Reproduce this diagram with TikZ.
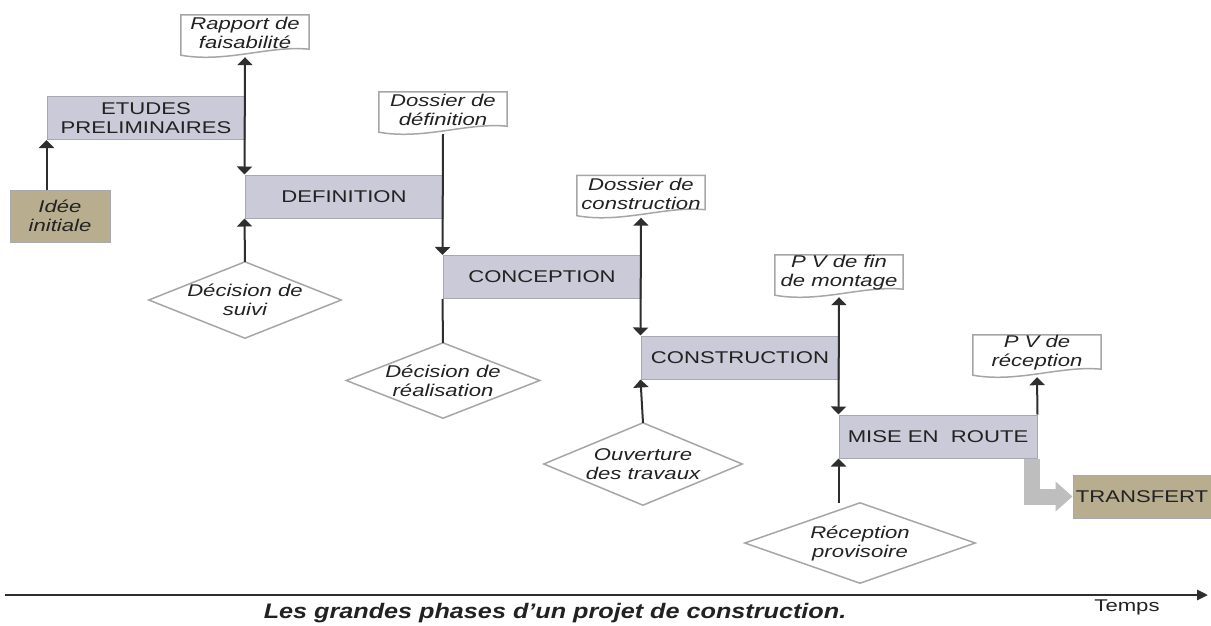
\documentclass[tikz,border=0pt]{standalone}
\usepackage{fontspec}
\setmainfont{Liberation Sans}[FakeStretch=1.3]
\newfontfamily\capfont{Liberation Sans}[FakeStretch=1.2]
\usetikzlibrary{arrows.meta,calc,backgrounds}
\definecolor{phasefill}{HTML}{CACAD8}
\definecolor{tanfill}{HTML}{B8AD8E}
\definecolor{boxborder}{HTML}{A8A8B0}
\definecolor{linecol}{HTML}{2E2E2E}
\definecolor{textcol}{HTML}{222222}
\definecolor{shapeline}{HTML}{A6A6A6}
\definecolor{grayarr}{HTML}{BEBEBE}
\tikzset{
  lbl/.style={font=\fontsize{17}{19}\selectfont, text=textcol, align=center},
  phase/.style={lbl, draw=boxborder, line width=1pt, fill=phasefill, minimum width=198pt, minimum height=43pt, inner sep=0pt},
  tanbox/.style={lbl, draw=boxborder, line width=1pt, fill=tanfill, inner sep=0pt},
  docnode/.style={minimum width=128pt, minimum height=42pt, inner sep=0pt},
  doctext/.style={lbl, font=\fontsize{17}{19}\selectfont\itshape, inner sep=0pt, yshift=3pt},
  decnode/.style={lbl, font=\fontsize{17}{19}\selectfont\itshape, inner sep=0pt},
  docline/.style={draw=shapeline, line width=1.5pt, fill=white},
  dialine/.style={draw=shapeline, line width=1.5pt, fill=white},
  link/.style={draw=linecol, line width=2pt},
  tipin/.style={-{Triangle[width=15pt,length=8pt]}},
  tipboth/.style={{Triangle[width=15pt,length=8pt]}-{Triangle[width=15pt,length=8pt]}},
  grayarrow/.style={draw=grayarr, line width=16pt, line join=miter, -{Triangle[width=29pt,length=17pt]}},
  axisline/.style={draw=linecol, line width=2.6pt, -{Triangle[width=10pt,length=11pt]}}
}
\newcommand\docpath[1]{\draw[docline] ($(#1.south west)+(0,-2)$) -- (#1.north west) -- (#1.north east) -- ($(#1.south east)+(0,-8)$) .. controls ($(#1.south east)+(-40,-12)$) and ($(#1.south west)+(45,6)$) .. ($(#1.south west)+(0,-2)$) -- cycle;}
\newcommand\diapath[1]{\draw[dialine] (#1.north) -- (#1.east) -- (#1.south) -- (#1.west) -- cycle;}
\begin{document}
\begin{tikzpicture}[x=1pt,y=-1pt]
\useasboundingbox (0,0) rectangle (1211,625);

% phases
\node[phase] (etudes) at (146,118) {ETUDES\\PRELIMINAIRES};
\node[phase] (definition) at (344,196.5) {DEFINITION};
\node[phase] (conception) at (542,277) {CONCEPTION};
\node[phase] (construction) at (740,357.5) {CONSTRUCTION};
\node[phase] (mise) at (938,436.5) {MISE EN\ \ ROUTE};

\node[tanbox, minimum width=100pt, minimum height=52pt, font=\fontsize{17}{19}\selectfont\itshape] (idee) at (60,216) {Idée\\initiale};
\node[tanbox, minimum width=138pt, minimum height=43pt] (transfert) at (1142,496.5) {TRANSFERT};

% documents
\node[docnode, label={[doctext]center:{Rapport de\\faisabilité}}] (rap) at (245,36) {};
\node[docnode, label={[doctext]center:{Dossier de\\définition}}] (ddef) at (443,113) {};
\node[docnode, label={[doctext]center:{Dossier de\\construction}}] (dcons) at (641,196.5) {};
\node[docnode, label={[doctext]center:{P V de fin\\de montage}}] (pvfin) at (839,276) {};
\node[docnode, label={[doctext]center:{P V de\\réception}}] (pvrec) at (1037,356) {};

% decisions
\node[decnode, minimum width=192pt, minimum height=76pt] (suivi) at (245,300) {Décision de\\suivi};
\node[decnode, minimum width=193pt, minimum height=75pt] (real) at (443,380.5) {Décision de\\réalisation};
\node[decnode, minimum width=198pt, minimum height=82pt] (ouv) at (643,464) {Ouverture\\des travaux};
\node[decnode, minimum width=230pt, minimum height=80pt] (recp) at (860,543) {Réception\\provisoire};

\begin{scope}[on background layer]
  \fill[white] (0,0) rectangle (1211,625);
  \docpath{rap}
  \docpath{ddef}
  \docpath{dcons}
  \docpath{pvfin}
  \docpath{pvrec}
  \diapath{suivi}
  \diapath{real}
  \diapath{ouv}
  \diapath{recp}
\end{scope}

% connectors
\draw[link, tipin] (etudes.south west |- idee.north) -- (etudes.south west);
\draw[link, tipboth] (rap.south) -- (definition.north west);
\draw[link, tipin] (suivi.north) -- (definition.south west);
\draw[link, tipin] (ddef.south) -- (conception.north west);
\draw[link] (conception.south west) -- (real.north);
\draw[link, tipboth] (dcons.south) -- (construction.north west);
\draw[link, tipin] (ouv.north) -- (construction.south west);
\draw[link, tipboth] (pvfin.south) -- (mise.north west);
\draw[link, tipin] (recp.north -| mise.south west) -- (mise.south west);
\draw[link, tipin] (mise.north east) -- (pvrec.south);
\draw[grayarrow] ($(mise.south east)+(-6,0)$) |- (transfert.west);

% time axis
\coordinate (t0) at (5,595);
\coordinate (t1) at (1208,595);
\draw[axisline] (t0) -- (t1);
\node[lbl, font=\fontsize{17}{19}\selectfont] (temps) at (1127,607) {Temps};
\node[text=textcol, font=\capfont\fontsize{21}{23}\selectfont\bfseries\itshape] (caption) at (555,613) {Les grandes phases d’un projet de construction.};
\end{tikzpicture}
\end{document}
